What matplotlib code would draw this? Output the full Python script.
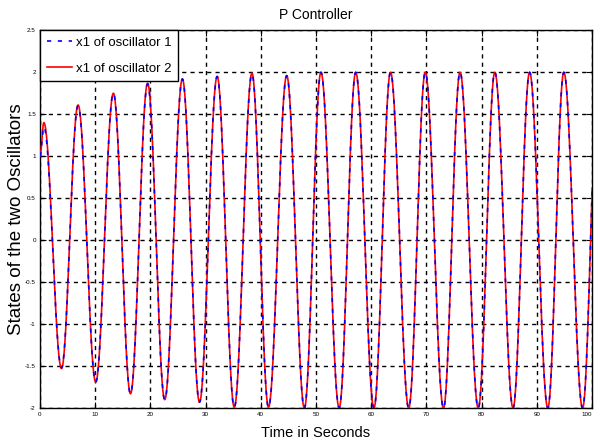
import numpy as np
import matplotlib
matplotlib.use("Agg")
import matplotlib.pyplot as plt

# Turning points of x1 (time in s, value) for the two oscillators
start_time = 0.0
start_value_1 = 1.0
start_value_2 = 1.0
peak_times = [0.7, 6.9, 13.3, 19.5, 25.8, 32.1, 38.4, 44.7, 50.9, 57.2,
              63.5, 69.8, 76.1, 82.4, 88.7, 94.9, 101.2]
peak_values_1 = [1.35, 1.60, 1.75, 1.86, 1.92, 1.95, 1.98, 1.96, 2.0, 2.0,
                 2.0, 2.0, 2.0, 2.0, 2.0, 2.0, 2.0]
peak_values_2 = [1.40, 1.61, 1.75, 1.87, 1.92, 1.95, 1.99, 1.96, 2.0, 2.0,
                 2.0, 2.0, 2.0, 2.0, 2.0, 2.0, 2.0]
trough_times = [3.9, 10.1, 16.4, 22.6, 28.9, 35.2, 41.4, 47.9, 54.2, 60.5,
                66.8, 73.1, 79.4, 85.7, 92.0, 98.3]
trough_values_1 = [-1.52, -1.69, -1.83, -1.90, -1.93, -1.99, -1.99, -2.0,
                   -2.0, -2.0, -2.0, -2.0, -2.0, -2.0, -2.0, -2.0]
trough_values_2 = [-1.53, -1.69, -1.83, -1.90, -1.93, -1.99, -1.99, -2.0,
                   -2.0, -2.0, -2.0, -2.0, -2.0, -2.0, -2.0, -2.0]

x_ticks = [0, 10, 20, 30, 40, 50, 60, 70, 80, 90, 100]
y_ticks = [-2, -1.5, -1, -0.5, 0, 0.5, 1, 1.5, 2, 2.5]
y_tick_labels = ["-2", "-1.5", "-1", "-0.5", "0", "0.5", "1", "1.5", "2", "2.5"]


def turning_points(start_value, peaks, troughs):
    t = [start_time]
    v = [start_value]
    for i, (tp, vp) in enumerate(zip(peak_times, peaks)):
        t.append(tp)
        v.append(vp)
        if i < len(trough_times):
            t.append(trough_times[i])
            v.append(troughs[i])
    return np.array(t), np.array(v)


def smooth_trace(t, v, n=40):
    # half-cosine segments between successive turning points
    ts, vs = [], []
    for i in range(len(t) - 1):
        s = np.linspace(0, 1, n, endpoint=False)
        ts.append(t[i] + (t[i + 1] - t[i]) * s)
        vs.append(v[i] + (v[i + 1] - v[i]) * (1 - np.cos(np.pi * s)) / 2)
    ts.append([t[-1]])
    vs.append([v[-1]])
    return np.concatenate(ts), np.concatenate(vs)


t1, v1 = smooth_trace(*turning_points(start_value_1, peak_values_1, trough_values_1))
t2, v2 = smooth_trace(*turning_points(start_value_2, peak_values_2, trough_values_2))

plt.rcParams["font.family"] = ["Liberation Sans", "DejaVu Sans"]

fig = plt.figure(figsize=(5.94, 4.45), dpi=100)
ax = fig.add_axes([0.0673, 0.083, 0.9293, 0.849])

ax.plot(t2, v2, color="red", linewidth=1.2, label="x1 of oscillator 2", zorder=3)
ax.plot(t1, v1, color="blue", linewidth=1.2, linestyle=(0, (2.5, 4)),
        label="x1 of oscillator 1", zorder=4)

ax.set_xlim(0, 100)
ax.set_ylim(-2, 2.5)
ax.set_xticks(x_ticks)
ax.set_yticks(y_ticks)
ax.set_yticklabels(y_tick_labels)
ax.tick_params(direction="in", length=4, width=0.8, labelsize=4.5,
               top=True, right=True, pad=3)
# keep the last x tick label inside the figure
ax.get_xticklabels()[-1].set_horizontalalignment("right")
ax.grid(True, color="black", linestyle=(0, (3, 3)), linewidth=1.0)
for spine in ax.spines.values():
    spine.set_linewidth(1.0)

ax.set_title("P Controller", fontsize=10, pad=8)
ax.set_xlabel("Time in Seconds", fontsize=10.5, labelpad=6)
ax.set_ylabel("States of the two Oscillators", fontsize=13.5)
ax.yaxis.set_label_coords(-0.028, 0.5)

handles, labels = ax.get_legend_handles_labels()
leg = ax.legend(handles[::-1], labels[::-1], loc="upper left", fontsize=9.5,
                borderaxespad=0, fancybox=False, framealpha=1,
                edgecolor="black", handlelength=1.9, handletextpad=0.3,
                borderpad=0.5, labelspacing=1.0)
leg.get_frame().set_linewidth(1.0)

fig.savefig("out.png", dpi=100)
